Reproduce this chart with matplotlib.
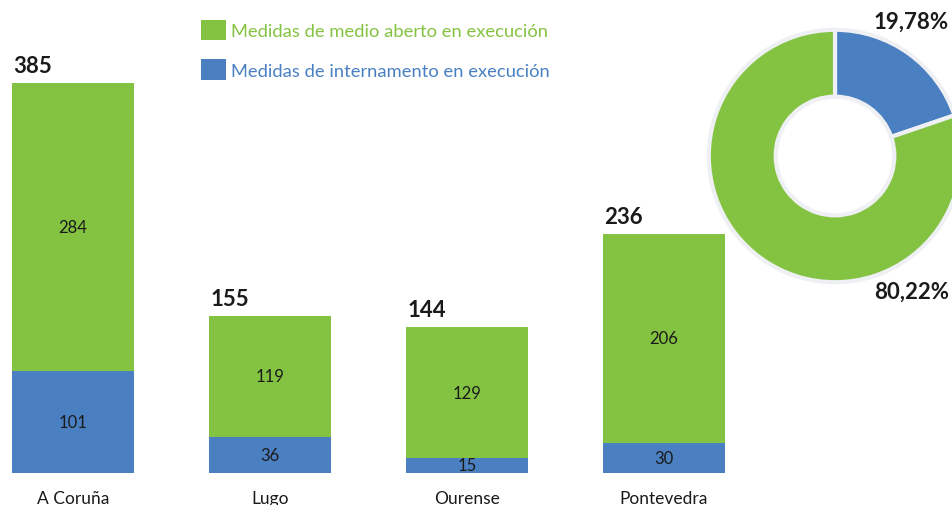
import matplotlib.pyplot as plt
import numpy as np

plt.rcParams['font.family'] = ['Lato', 'DejaVu Sans']

# data
provincias = ['A Coruña', 'Lugo', 'Ourense', 'Pontevedra']
medio_aberto = [284, 119, 129, 206]
internamento = [101, 36, 15, 30]
totais = [385, 155, 144, 236]
porcentaxes = [19.78, 80.22]   # internamento, medio aberto
porcentaxe_labels = ['19,78%', '80,22%']

green = '#84c341'
blue = '#4a80c2'
W, H = 953, 506

fig = plt.figure(figsize=(W / 100, H / 100), dpi=100)

# bars axis: spans the whole width, baseline at y=474 px from top
ax = fig.add_axes([0, (H - 474) / H, 1, 474 / H])
x = np.arange(len(provincias))
width = 122 / 197
b1 = ax.bar(x, internamento, width, color=blue, label='Medidas de internamento en execución')
b2 = ax.bar(x, medio_aberto, width, bottom=internamento, color=green,
            label='Medidas de medio aberto en execución')
ax.bar_label(b1, label_type='center', fontsize=12, color='#1a1a1a')
ax.bar_label(b2, label_type='center', fontsize=12, color='#1a1a1a')
for i, t in enumerate(totais):
    ax.annotate(str(t), (x[i] - width / 2, t), xytext=(1, 5), textcoords='offset points',
                ha='left', va='bottom', fontsize=16, fontweight='bold', color='#1a1a1a')

ax.set_xlim(-73 / 197, (W - 73) / 197)
ax.set_ylim(0, 474 / 1.012)
ax.set_xticks(x)
ax.set_xticklabels(provincias, fontsize=12.5, color='#1a1a1a')
ax.tick_params(axis='x', length=0, pad=12)
ax.set_yticks([])
for s in ax.spines.values():
    s.set_visible(False)

leg = fig.legend(handles=[b2, b1], loc='upper left', bbox_to_anchor=(185 / W, 1 - 4 / H),
                 frameon=False, fontsize=13.2, labelcolor=[green, blue],
                 handlelength=1.35, handleheight=1.35, handletextpad=0.25, labelspacing=1.05)

# donut
cx, cy, r = 835, 157, 130
ax2 = fig.add_axes([(cx - r) / W, (H - cy - r) / H, 2 * r / W, 2 * r / H])
ax2.pie(porcentaxes, colors=[blue, green], startangle=90, counterclock=False, radius=1,
        wedgeprops=dict(width=0.53, edgecolor='#eef0f3', linewidth=3))
ax2.set_xlim(-1.03, 1.03)
ax2.set_ylim(-1.03, 1.03)
ax2.set_aspect('equal')
ax2.axis('off')

fig.text(949 / W, 1 - 22 / H, porcentaxe_labels[0], ha='right', va='center',
         fontsize=16, fontweight='bold', color='#1a1a1a')
fig.text(949 / W, 1 - 292 / H, porcentaxe_labels[1], ha='right', va='center',
         fontsize=16, fontweight='bold', color='#1a1a1a')

fig.savefig('out.png', dpi=100)
